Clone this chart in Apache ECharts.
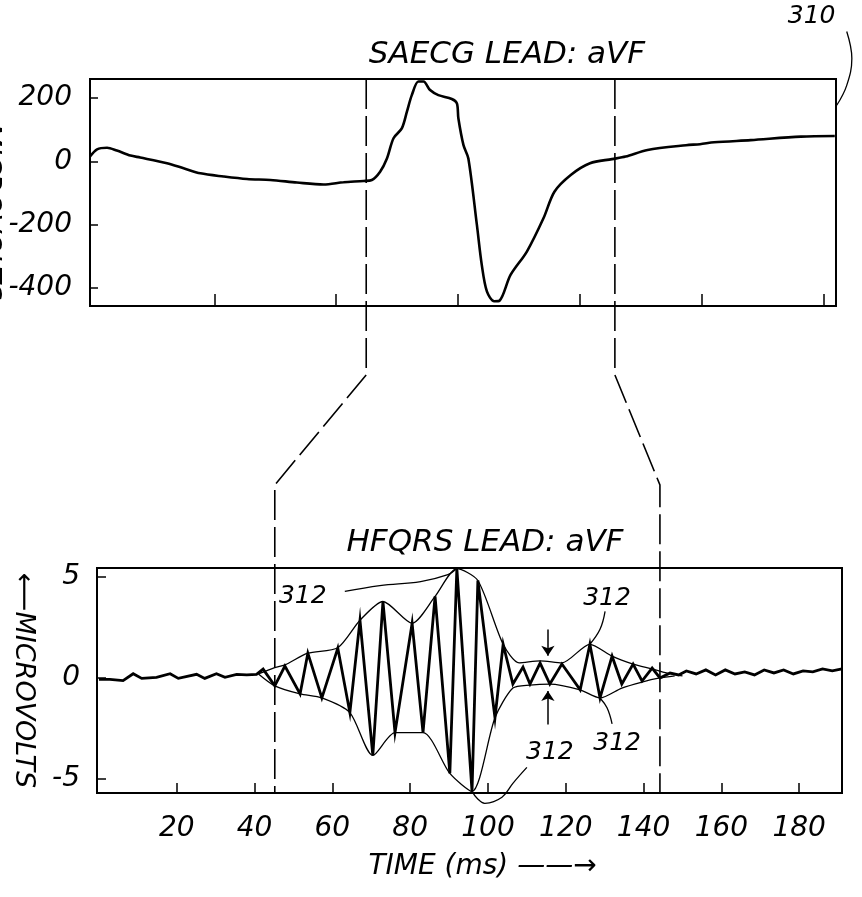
<!DOCTYPE html>
<html><head><meta charset="utf-8">
<script src="https://cdn.jsdelivr.net/npm/echarts@6/dist/echarts.min.js"></script>
<style>html,body{margin:0;padding:0;background:#fff}#c{width:862px;height:897px}</style>
</head><body><div id="c"></div>
<script>
// ---------- DATA ----------
// SAECG (upper panel), time in arbitrary ms units, microvolts
const saecgTime  = [-1, 1.9, 6, 10, 15.6, 19.6, 30.6, 37.4, 44.3, 53.8, 63.4, 73, 83.9, 94.8, 103, 111.2, 114.6, 118, 120.8, 123.5, 126.9, 129, 131, 133.7, 135.8, 138.5, 141.9, 147.4, 149.5, 150.1, 152.2, 154.2, 157.7, 159.7, 161.8, 164.8, 167, 171.5, 178.2, 185, 189.5, 196.2, 204.1, 213.1, 218.7, 227.7, 243.5, 249.2, 255, 270, 290.6, 304.5];
const saecgValue = [15, 38, 43, 34, 18, 12, -6, -22, -38, -48, -56, -59, -67, -73, -66, -62, -59, -33, 9, 73, 104, 157, 209, 252, 252, 225, 209, 197, 183, 136, 51, 9, -201, -327, -411, -442, -440, -359, -285, -180, -96, -43, -6, 7, 15, 36, 51, 54, 60, 67, 78, 80];

// HFQRS (lower panel)
const hfqrsTime  = [0, 2.8, 6.2, 8.8, 11, 14.8, 18.3, 20.4, 25.1, 27.2, 30.2, 32.4, 35.4, 38, 40.5,
  42.2, 45.2, 47.8, 51.7, 53.7, 57.3, 61.4, 64.5, 67.1, 70.4, 73, 76.1, 80.5, 83.3, 86.4, 90.2, 92, 95.9, 97.4, 101.8, 103.9, 106.4, 109, 110.8, 113.4, 115.9, 119, 123.7, 126.2, 128.8, 131.9, 134.4, 137.3, 139.6, 142.2, 144.2, 146.8,
  149, 151, 153.5, 156, 158.5, 161, 163.5, 166, 168.5, 171, 173.5, 176, 178.5, 181, 183.5, 186, 188.5, 191];
const hfqrsValue = [-0.07, -0.07, -0.13, 0.21, -0.02, 0.03, 0.21, -0.02, 0.18, -0.02, 0.21, 0.03, 0.18, 0.15, 0.18,
  0.44, -0.39, 0.59, -0.79, 1.23, -0.99, 1.48, -1.72, 2.86, -3.84, 3.79, -2.71, 2.71, -2.71, 4.04, -4.73, 5.42, -5.62, 4.83, -1.97, 1.67, -0.3, 0.54, -0.3, 0.74, -0.3, 0.69, -0.59, 1.67, -0.99, 1.08, -0.3, 0.69, -0.15, 0.49, 0, 0.25,
  0.15, 0.35, 0.2, 0.4, 0.15, 0.4, 0.2, 0.3, 0.15, 0.4, 0.25, 0.4, 0.2, 0.35, 0.3, 0.45, 0.35, 0.45];

// envelopes
const envUpperTime  = [41, 45, 47.8, 53.7, 61.4, 67.1, 73, 80.5, 86.4, 92, 97.4, 103.9, 108, 113.4, 119, 126.2, 131.9, 137.3, 142.2, 147, 150];
const envUpperValue = [0.2, 0.5, 0.65, 1.23, 1.5, 2.86, 3.79, 2.71, 4.04, 5.42, 4.83, 1.67, 0.75, 0.85, 0.75, 1.67, 1.08, 0.69, 0.45, 0.2, 0.1];
const envLowerTime  = [41, 45.2, 51.7, 57.3, 64.5, 70.4, 76.1, 83.3, 90.2, 95.9, 101.8, 106.4, 110.8, 115.9, 123.7, 128.8, 134.4, 139.6, 144.2, 148];
const envLowerValue = [0.2, -0.39, -0.79, -0.99, -1.72, -3.84, -2.71, -2.71, -4.73, -5.62, -1.97, -0.5, -0.35, -0.3, -0.59, -0.99, -0.5, -0.2, 0, 0.1];

// ticks
const topXTicks = [50, 100, 150, 200, 250, 300];
const topYTicks = [-400, -200, 0, 200];
const bottomXTicks = [20, 40, 60, 80, 100, 120, 140, 160, 180];
const bottomYTicks = [-5, 0, 5];

// analysis window (dashed)
const windowTop = [112.3, 214.3];
const windowBottom = [45.2, 144.2];

// annotations (data coordinates)
const label312Time  = [52.4, 130.6, 133.2, 115.9];
const label312Value = [4.04, 3.94, -3.25, -3.69];
const leader312A = [[63.2, 4.29], [72.2, 4.58], [82.7, 4.78], [89.7, 5.12], [92, 5.42]];
const leader312B = [[130.1, 3.3], [128.8, 2.41], [126.2, 1.67]];
const leader312C = [[131.9, -2.27], [130.6, -1.48], [128.8, -0.99]];
const leader312D = [[110, -4.43], [106.4, -5.22], [103.6, -5.91], [99.2, -6.21], [97.2, -5.96], [95.9, -5.62]];
const label310 = [295, 458];
const leader310 = [[309.4, 410], [311.5, 325], [309.4, 240], [305.3, 177]];
const arrowTime = 115.4;
const arrowDown = [2.4, 1.1];
const arrowUp = [-2.3, -0.65];

// ---------- CHART ----------
const FONT = "'DejaVu Sans', 'Liberation Sans', sans-serif";
const zip = (a, b) => a.map((x, i) => [x, b[i]]);
const chart = echarts.init(document.getElementById('c'), null, {renderer: 'canvas'});

const lblStyle = {color: '#000', fontSize: 28, fontStyle: 'italic', fontFamily: FONT};
const axisLine = {show: true, onZero: false, lineStyle: {color: '#000', width: 2}};
const titleStyle = {color: '#000', fontSize: 31, fontStyle: 'italic', fontWeight: 'normal', fontFamily: FONT};

const option = {
  backgroundColor: '#fff',
  animation: false,
  title: [
    {text: 'SAECG LEAD: aVF', left: 502, top: 34, textAlign: 'center', textStyle: titleStyle},
    {text: 'HFQRS LEAD: aVF', left: 480, top: 522, textAlign: 'center', textStyle: titleStyle}
  ],
  grid: [
    {left: 90, right: 26, top: 79, height: 227, show: true, borderColor: '#000', borderWidth: 2,
     backgroundColor: 'transparent', containLabel: false, outerBoundsMode: 'none'},
    {left: 97, right: 20, top: 568, height: 225, show: true, borderColor: '#000', borderWidth: 2,
     backgroundColor: 'transparent', containLabel: false, outerBoundsMode: 'none'}
  ],
  xAxis: [
    {type: 'value', gridIndex: 0, min: -1, max: 305, axisLine,
     axisTick: {show: true, inside: true, length: 12, customValues: topXTicks, lineStyle: {color: '#000', width: 1.5}},
     axisLabel: {show: false}, splitLine: {show: false}},
    {type: 'value', gridIndex: 1, min: -0.5, max: 191, axisLine,
     axisTick: {show: true, inside: true, length: 10, customValues: bottomXTicks, lineStyle: {color: '#000', width: 1.5}},
     axisLabel: Object.assign({margin: 22, customValues: bottomXTicks}, lblStyle),
     splitLine: {show: false},
     name: 'TIME (ms) ——→', nameLocation: 'middle', nameGap: 60, nameMoveOverlap: false,
     nameTextStyle: Object.assign({padding: [0, 0, 0, 26]}, lblStyle)}
  ],
  yAxis: [
    {type: 'value', gridIndex: 0, min: -457, max: 260, axisLine,
     axisTick: {show: true, inside: true, length: 8, customValues: topYTicks, lineStyle: {color: '#000', width: 1.5}},
     axisLabel: Object.assign({margin: 18, customValues: topYTicks}, lblStyle),
     splitLine: {show: false},
     name: '⟵MICROVOLTS', nameLocation: 'middle', nameRotate: -90, nameGap: 87, nameMoveOverlap: false,
     nameTextStyle: Object.assign({}, lblStyle, {fontSize: 27})},
    {type: 'value', gridIndex: 1, min: -5.7, max: 5.45, axisLine,
     axisTick: {show: true, inside: true, length: 9, customValues: bottomYTicks, lineStyle: {color: '#000', width: 1.5}},
     axisLabel: Object.assign({margin: 17, customValues: bottomYTicks}, lblStyle),
     splitLine: {show: false},
     name: '⟵MICROVOLTS', nameLocation: 'middle', nameRotate: -90, nameGap: 60, nameMoveOverlap: false,
     nameTextStyle: Object.assign({}, lblStyle, {fontSize: 27})}
  ],
  series: [
    {name: 'SAECG', type: 'line', xAxisIndex: 0, yAxisIndex: 0, data: zip(saecgTime, saecgValue),
     smooth: 0.3, showSymbol: false, lineStyle: {color: '#000', width: 2.6}, silent: true},
    {name: 'Upper envelope', type: 'line', xAxisIndex: 1, yAxisIndex: 1, data: zip(envUpperTime, envUpperValue),
     smooth: 0.25, showSymbol: false, lineStyle: {color: '#000', width: 1.3}, silent: true},
    {name: 'Lower envelope', type: 'line', xAxisIndex: 1, yAxisIndex: 1, data: zip(envLowerTime, envLowerValue),
     smooth: 0.25, showSymbol: false, lineStyle: {color: '#000', width: 1.3}, silent: true},
    {name: 'HFQRS', type: 'line', xAxisIndex: 1, yAxisIndex: 1, data: zip(hfqrsTime, hfqrsValue),
     showSymbol: false, lineStyle: {color: '#000', width: 2.8, join: 'miter'}, silent: true,
     markLine: {silent: true, symbol: ['none', 'arrow'], symbolSize: 10, animation: false,
       label: {show: false}, lineStyle: {color: '#000', width: 1.5, type: 'solid'},
       data: [
         [{coord: [arrowTime, arrowDown[0]]}, {coord: [arrowTime, arrowDown[1]]}],
         [{coord: [arrowTime, arrowUp[0]]}, {coord: [arrowTime, arrowUp[1]]}]
       ]}}
  ]
};
chart.setOption(option);

// ---------- ANNOTATIONS via library coordinate conversion ----------
const P = (g, p) => chart.convertToPixel({gridIndex: g}, p);
const g0 = chart.getModel().getComponent('grid', 0).coordinateSystem.getRect();
const g1 = chart.getModel().getComponent('grid', 1).coordinateSystem.getRect();
const gap = g1.y - (g0.y + g0.height);
const bendTopY = g0.y + g0.height + gap * 0.263;
const bendBotY = g1.y - gap * 0.317;

const graphics = [];
const dash = {stroke: '#000', lineWidth: 1.6, fill: null, lineDash: [30, 7]};
for (let i = 0; i < 2; i++) {
  const xt = P(0, [windowTop[i], 0])[0];
  const xb = P(1, [windowBottom[i], 0])[0];
  graphics.push({type: 'polyline', silent: true,
    shape: {points: [[xt, g0.y], [xt, bendTopY], [xb, bendBotY], [xb, g1.y + g1.height]]},
    style: dash});
}
const thin = {stroke: '#000', lineWidth: 1.3, fill: null};
[leader312A, leader312B, leader312C, leader312D].forEach(l => {
  graphics.push({type: 'polyline', silent: true, shape: {points: l.map(p => P(1, p)), smooth: 0.4}, style: thin});
});
graphics.push({type: 'polyline', silent: true, shape: {points: leader310.map(p => P(0, p)), smooth: 0.4}, style: thin});
const txt = (pt, s) => ({type: 'text', silent: true, x: pt[0], y: pt[1],
  style: {text: s, fill: '#000', fontSize: 25, fontStyle: 'italic', fontFamily: FONT, align: 'center', verticalAlign: 'middle'}});
for (let i = 0; i < label312Time.length; i++) graphics.push(txt(P(1, [label312Time[i], label312Value[i]]), '312'));
graphics.push(txt(P(0, label310), '310'));
chart.setOption({graphic: graphics});
</script></body></html>
